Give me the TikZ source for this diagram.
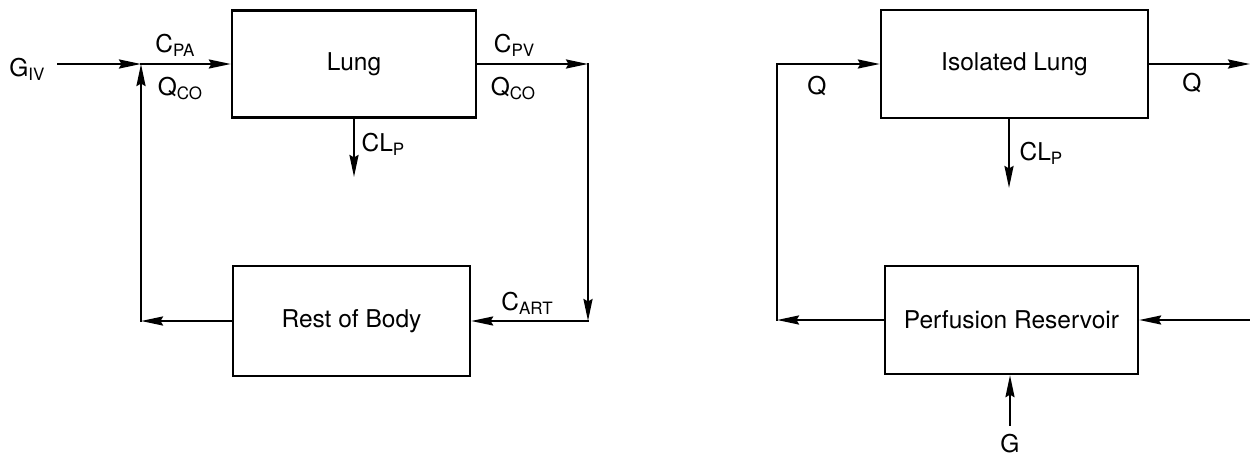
\documentclass[tikz,border=0pt]{standalone}
\usepackage{fontspec}
\setmainfont{TeX Gyre Heros}
\usetikzlibrary{arrows.meta}
\newcommand{\sbs}[1]{\raisebox{-4pt}{\fontsize{17}{17}\selectfont #1}}
\begin{document}
\begin{tikzpicture}[x=1pt,y=-1pt,
  every node/.style={font=\fontsize{24.5}{26}\selectfont, inner sep=0pt},
  blk/.style={draw, line width=2.3pt, inner sep=0pt},
  flow/.style={line width=2.3pt, line cap=rect, -{Stealth[length=22pt,width=9pt,inset=2.5pt]}},
  plain/.style={line width=2.3pt, line cap=rect},
  lbl/.style={anchor=base}]
\useasboundingbox (0,0) rectangle (1250,455);
% left diagram
\node[blk, minimum width=244pt, minimum height=107pt] (Lung) at (354,64) {Lung};
\node[blk, minimum width=237pt, minimum height=110pt] (Rest) at (351.5,321) {Rest of Body};
\coordinate (giv) at (58,64);
\coordinate (j) at (141,64);
\coordinate (rt) at (588,64);
\coordinate (rb) at (588,321);
\coordinate (lb) at (141,321);
\coordinate (clpL) at (354,177);
\draw[flow] (giv) -- (j);
\draw[flow] (j) -- (Lung.west);
\draw[flow] (Lung.east) -- (rt);
\draw[flow] (rt) -- (rb);
\draw[flow] (rb) -- (Rest.east);
\draw[flow] (Rest.west) -- (lb);
\draw[flow] (lb) -- (j);
\draw[flow] (Lung.south) -- (clpL);
\node[lbl] (tGIV) at (27,76) {G\sbs{IV}};
\node[lbl] (tCPA) at (175,52) {C\sbs{PA}};
\node[lbl] (tQCO1) at (180,95) {Q\sbs{CO}};
\node[lbl] (tCPV) at (514,52) {C\sbs{PV}};
\node[lbl] (tQCO2) at (513,95) {Q\sbs{CO}};
\node[lbl] (tCLP1) at (383,151) {CL\sbs{P}};
\node[lbl] (tCART) at (527,310) {C\sbs{ART}};
% right diagram
\node[blk, minimum width=267pt, minimum height=108pt] (IL) at (1014.5,64) {Isolated Lung};
\node[blk, minimum width=253pt, minimum height=108pt] (PR) at (1011.5,320) {Perfusion Reservoir};
\coordinate (qt) at (777,64);
\coordinate (qb) at (777,320);
\coordinate (qout) at (1250,64);
\coordinate (rin) at (1250,320);
\coordinate (gc) at (1010,425);
\coordinate (clpR) at (1009,188);
\draw[flow] (PR.west) -- (qb);
\draw[plain] (qb) -- (qt);
\draw[flow] (qt) -- (IL.west);
\draw[flow] (IL.east) -- (qout);
\draw[flow] (rin) -- (PR.east);
\draw[flow] (gc) -- (gc |- PR.south);
\draw[flow] (clpR |- IL.south) -- (clpR);
\node[lbl] (tQ1) at (817,94) {Q};
\node[lbl] (tQ2) at (1192,91) {Q};
\node[lbl] (tCLP2) at (1041,160) {CL\sbs{P}};
\node[lbl] (tG) at (1010,452) {G};
\end{tikzpicture}
\end{document}
